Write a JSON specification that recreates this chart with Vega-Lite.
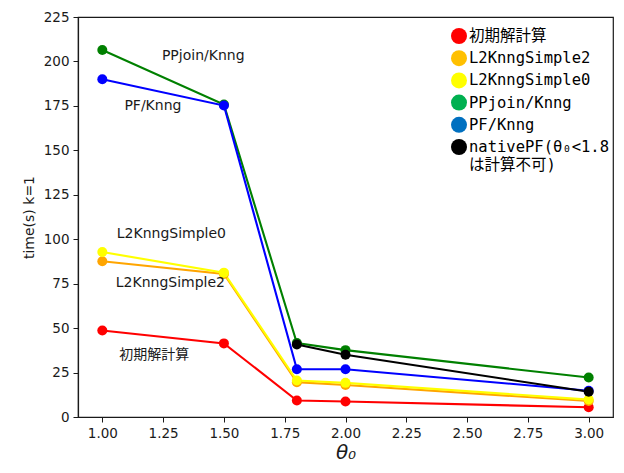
{
  "$schema": "https://vega.github.io/schema/vega-lite/v6.json",
  "width": 535,
  "height": 400,
  "autosize": {"type": "none"},
  "padding": {"left": 78, "top": 17, "right": 11, "bottom": 56},
  "background": "white",
  "config": {
    "view": {"stroke": "#1a1a1a", "strokeWidth": 1.2},
    "axis": {
      "grid": false,
      "domainColor": "#1a1a1a",
      "domainWidth": 1.2,
      "tickColor": "#1a1a1a",
      "tickSize": 5,
      "tickWidth": 1,
      "labelFont": "DejaVu Sans",
      "labelFontSize": 13.5,
      "labelColor": "#1a1a1a",
      "labelPadding": 4,
      "titleFont": "DejaVu Sans",
      "titleFontWeight": "normal",
      "titleColor": "#1a1a1a"
    }
  },
  "datasets": {
    "series": [
      {"s": "初期解計算", "x": 1.0, "y": 48.7},
      {"s": "初期解計算", "x": 1.5, "y": 41.4},
      {"s": "初期解計算", "x": 1.8, "y": 9.3},
      {"s": "初期解計算", "x": 2.0, "y": 8.7},
      {"s": "初期解計算", "x": 3.0, "y": 5.5},
      {"s": "L2KnngSimple2", "x": 1.0, "y": 87.6},
      {"s": "L2KnngSimple2", "x": 1.5, "y": 80.5},
      {"s": "L2KnngSimple2", "x": 1.8, "y": 19.6},
      {"s": "L2KnngSimple2", "x": 2.0, "y": 18.0},
      {"s": "L2KnngSimple2", "x": 3.0, "y": 9.0},
      {"s": "L2KnngSimple0", "x": 1.0, "y": 92.8},
      {"s": "L2KnngSimple0", "x": 1.5, "y": 81.2},
      {"s": "L2KnngSimple0", "x": 1.8, "y": 20.5},
      {"s": "L2KnngSimple0", "x": 2.0, "y": 19.2},
      {"s": "L2KnngSimple0", "x": 3.0, "y": 9.8},
      {"s": "PPjoin/Knng", "x": 1.0, "y": 206.4},
      {"s": "PPjoin/Knng", "x": 1.5, "y": 175.8},
      {"s": "PPjoin/Knng", "x": 1.8, "y": 41.6},
      {"s": "PPjoin/Knng", "x": 2.0, "y": 37.6},
      {"s": "PPjoin/Knng", "x": 3.0, "y": 22.2},
      {"s": "PF/Knng", "x": 1.0, "y": 190.0},
      {"s": "PF/Knng", "x": 1.5, "y": 175.2},
      {"s": "PF/Knng", "x": 1.8, "y": 26.9},
      {"s": "PF/Knng", "x": 2.0, "y": 26.9},
      {"s": "PF/Knng", "x": 3.0, "y": 14.8},
      {"s": "nativePF", "x": 1.8, "y": 40.8},
      {"s": "nativePF", "x": 2.0, "y": 35.0},
      {"s": "nativePF", "x": 3.0, "y": 14.2}
    ],
    "notes": [
      {"t": "PPjoin/Knng", "x": 1.415, "y": 203},
      {"t": "PF/Knng", "x": 1.208, "y": 175},
      {"t": "L2KnngSimple0", "x": 1.284, "y": 103},
      {"t": "L2KnngSimple2", "x": 1.28, "y": 75.4},
      {"t": "初期解計算", "x": 1.214, "y": 34.9}
    ]
  },
  "layer": [
    {
      "data": {"name": "series"},
      "mark": {"type": "circle", "size": 0, "opacity": 1},
      "encoding": {
        "x": {
          "field": "x", "type": "quantitative",
          "scale": {"domain": [0.9, 3.1], "nice": false, "zero": false},
          "axis": {"values": [1, 1.25, 1.5, 1.75, 2, 2.25, 2.5, 2.75, 3], "format": ".2f", "title": "θ₀", "titleFontSize": 20, "titleFontStyle": "italic", "titlePadding": 3}
        },
        "y": {
          "field": "y", "type": "quantitative",
          "scale": {"domain": [0, 225], "nice": false},
          "axis": {"values": [0, 25, 50, 75, 100, 125, 150, 175, 200, 225], "title": "time(s) k=1", "titleFontSize": 14, "titlePadding": 7}
        },
        "fill": {
          "field": "s", "type": "nominal",
          "scale": {"domain": ["初期解計算", "L2KnngSimple2", "L2KnngSimple0", "PPjoin/Knng", "PF/Knng", "nativePF"], "range": ["#ff0000", "#ffc000", "#ffff00", "#00b050", "#0070c0", "#000000"]},
          "legend": {
            "title": null,
            "orient": "none",
            "legendX": 373,
            "legendY": 11,
            "padding": 0,
            "symbolType": "circle",
            "symbolSize": 256,
            "symbolOpacity": 1,
            "symbolStrokeWidth": 0,
            "labelFont": "DejaVu Sans Mono, Noto Sans CJK JP",
            "labelFontSize": 15.5,
            "labelColor": "#000000",
            "labelOffset": 2,
            "labelLimit": 300,
            "rowPadding": 5.2,
            "labelExpr": "datum.label == 'nativePF' ? ['nativePF(θ₀<1.8', 'は計算不可)'] : datum.label"
          }
        }
      }
    },
    {
      "data": {"name": "series"},
      "mark": {"type": "line", "strokeWidth": 2.1},
      "encoding": {
        "x": {"field": "x", "type": "quantitative"},
        "y": {"field": "y", "type": "quantitative"},
        "color": {
          "field": "s", "type": "nominal",
          "scale": {"domain": ["初期解計算", "L2KnngSimple2", "L2KnngSimple0", "PPjoin/Knng", "PF/Knng", "nativePF"], "range": ["#ff0000", "#ffa500", "#ffff00", "#008000", "#0000ff", "#000000"]},
          "legend": null
        }
      }
    },
    {
      "data": {"name": "series"},
      "mark": {"type": "circle", "size": 100, "opacity": 1},
      "encoding": {
        "x": {"field": "x", "type": "quantitative"},
        "y": {"field": "y", "type": "quantitative"},
        "color": {"field": "s", "type": "nominal", "legend": null}
      }
    },
    {
      "data": {"name": "notes"},
      "mark": {"type": "text", "font": "DejaVu Sans, Noto Sans CJK JP", "fontSize": 14, "color": "#1a1a1a", "align": "center", "baseline": "middle"},
      "encoding": {
        "x": {"field": "x", "type": "quantitative"},
        "y": {"field": "y", "type": "quantitative"},
        "text": {"field": "t"}
      }
    }
  ]
}
